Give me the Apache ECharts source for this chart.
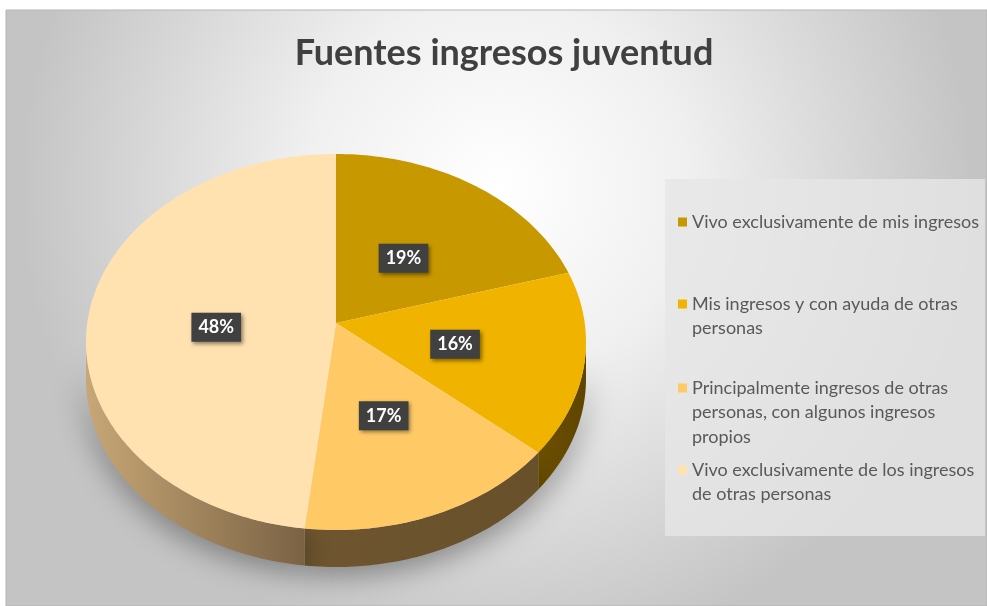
<!DOCTYPE html>
<html>
<head>
<meta charset="utf-8">
<script src="https://cdn.jsdelivr.net/npm/echarts@6/dist/echarts.min.js"></script>
<style>
  html, body { margin: 0; padding: 0; background: #fff; }
  #chart { width: 987px; height: 606px; }
</style>
</head>
<body>
<div id="chart"></div>
<script>
// datos del gráfico
const categories = [
  'Vivo exclusivamente de mis ingresos',
  'Mis ingresos y con ayuda de otras personas',
  'Principalmente ingresos de otras personas, con algunos ingresos propios',
  'Vivo exclusivamente de los ingresos de otras personas'
];
const values = [19, 16, 17, 48];

// estilo
const topColors = ['#C89800', '#F0B400', '#FFCA66', '#FFE2B0'];
const wallColors = [
  ['#6E5000', '#5E4400'],
  ['#6E5000', '#5E4400'],
  ['#6F5630', '#67502A'],
  ['#C7A776', '#7A6244']
];
const legendText = {
  'Vivo exclusivamente de mis ingresos': 'Vivo exclusivamente de mis ingresos',
  'Mis ingresos y con ayuda de otras personas': 'Mis ingresos y con ayuda de otras\npersonas',
  'Principalmente ingresos de otras personas, con algunos ingresos propios': 'Principalmente ingresos de otras\npersonas, con algunos ingresos\npropios',
  'Vivo exclusivamente de los ingresos de otras personas': 'Vivo exclusivamente de los ingresos\nde otras personas'
};
const legendIconY = [222, 304, 388, 470];

// geometría del pastel 3D
const CX = 336, CY = 342, RX = 250, RY = 188, DEPTH = 37;
const APEX = [336, 323];
const LINE_H = 24.5;
const FONT = 'Lato, "Open Sans", sans-serif';

const total = values.reduce((a, b) => a + b, 0);

function pt (t, dy) {
  return [CX + RX * Math.sin(t), CY - RY * Math.cos(t) + (dy || 0)];
}
function arc (a0, a1, dy) {
  const pts = [];
  const n = Math.max(2, Math.ceil((a1 - a0) / 0.02));
  for (let k = 0; k <= n; k++) pts.push(pt(a0 + (a1 - a0) * k / n, dy));
  return pts;
}

function renderSlice (idx) {
  return function (params, api) {
    let before = 0;
    for (let j = 0; j < idx; j++) before += values[j];
    const v = api.value(0);
    const a0 = before / total * Math.PI * 2;
    const a1 = (before + v) / total * Math.PI * 2;
    const children = [];

    // pared lateral visible (mitad inferior)
    const w0 = Math.max(a0, Math.PI / 2);
    const w1 = Math.min(a1, Math.PI * 1.5);
    if (w1 > w0) {
      const pts = arc(w0, w1, 0).concat(arc(w0, w1, DEPTH).reverse());
      children.push({
        type: 'polygon',
        z2: 1,
        shape: { points: pts },
        style: {
          fill: new echarts.graphic.LinearGradient(0, 0, 1, 0, [
            { offset: 0, color: wallColors[idx][0] },
            { offset: 1, color: wallColors[idx][1] }
          ]),
          shadowBlur: 30,
          shadowColor: 'rgba(0,0,0,0.4)',
          shadowOffsetY: 8
        }
      });
    }

    // cara superior
    children.push({
      type: 'polygon',
      z2: 10,
      shape: { points: [APEX].concat(arc(a0, a1, 0)) },
      style: { fill: topColors[idx] }
    });

    // etiqueta
    const am = (a0 + a1) / 2;
    const f = 0.48;
    children.push({
      type: 'text',
      z2: 20,
      x: CX + RX * f * Math.sin(am),
      y: 333 - RY * f * Math.cos(am),
      style: {
        text: v + '%',
        fill: '#ffffff',
        font: 'bold 18px ' + FONT,
        align: 'center',
        verticalAlign: 'middle',
        backgroundColor: '#404040',
        padding: [6, 7, 5, 7],
        shadowBlur: 4,
        shadowOffsetX: 2,
        shadowOffsetY: 2,
        shadowColor: 'rgba(0,0,0,0.45)'
      }
    });

    return { type: 'group', children: children };
  };
}

const chart = echarts.init(document.getElementById('chart'), null, { renderer: 'canvas' });

const option = {
  animation: false,
  graphic: [
    {
      type: 'rect',
      z: -10,
      shape: { x: 6, y: 10, width: 981, height: 596 },
      style: {
        fill: new echarts.graphic.RadialGradient(0.5, 0.3, 0.8, [
          { offset: 0, color: '#ffffff' },
          { offset: 0.4, color: '#f0f0f0' },
          { offset: 1, color: '#c4c4c4' }
        ]),
        stroke: '#b5b5b5',
        lineWidth: 1
      }
    },
    {
      type: 'rect',
      z: -9,
      shape: { x: 665, y: 179, width: 320, height: 357 },
      style: { fill: 'rgba(230,230,230,0.8)' }
    }
  ],
  title: {
    text: 'Fuentes ingresos juventud',
    left: 499,
    top: 30,
    textAlign: 'center',
    textStyle: {
      fontFamily: FONT,
      fontSize: 36,
      fontWeight: 'bold',
      color: '#404040'
    }
  },
  legend: categories.map((name, i) => {
    const lines = legendText[name].split('\n').length;
    return {
      data: [name],
      orient: 'vertical',
      left: 678,
      top: legendIconY[i] - (2 * lines - 1) * LINE_H / 2,
      padding: 0,
      icon: 'rect',
      itemWidth: 9,
      itemHeight: 9,
      itemGap: 0,
      selectedMode: false,
      // líneas vacías delante para que el icono quede junto a la primera línea
      formatter: n => '\n'.repeat(lines - 1) + legendText[n],
      textStyle: {
        fontFamily: FONT,
        fontSize: 18,
        color: '#595959',
        lineHeight: LINE_H
      }
    };
  }),
  series: categories.map((name, i) => ({
    name: name,
    type: 'custom',
    coordinateSystem: 'none',
    itemStyle: { color: topColors[i] },
    renderItem: renderSlice(i),
    data: [[values[i]]]
  }))
};

chart.setOption(option);
</script>
</body>
</html>
